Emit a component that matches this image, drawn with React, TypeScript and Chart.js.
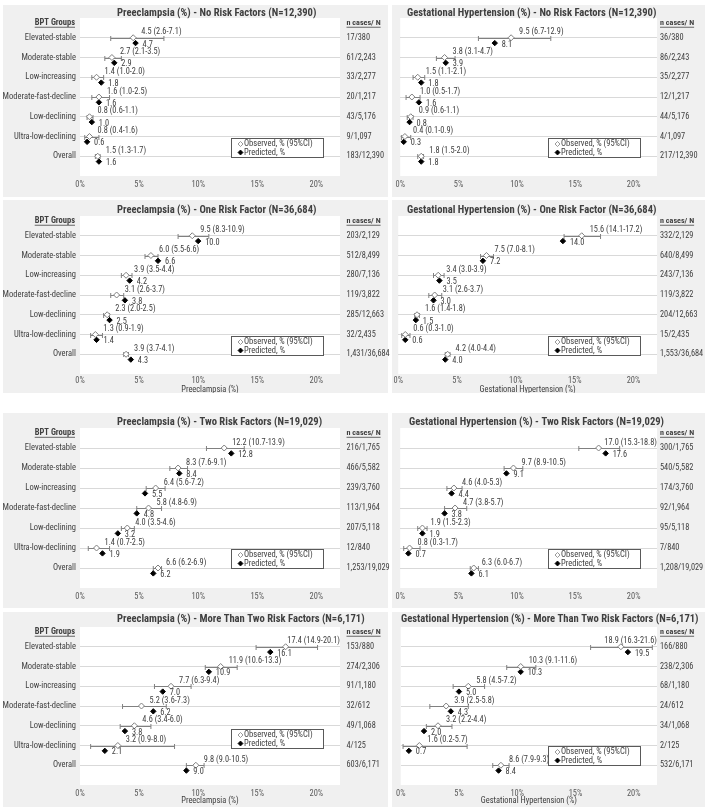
import React, { useEffect, useRef } from 'react';
import { Chart, registerables } from 'chart.js';
Chart.register(...registerables);

const FONT = '"Roboto Condensed", "DejaVu Sans Condensed", sans-serif';

const categories = ['Elevated-stable', 'Moderate-stable', 'Low-increasing', 'Moderate-fast-decline', 'Low-declining', 'Ultra-low-declining', 'Overall'];
const xTicks = [0, 5, 10, 15, 20];

// Preeclampsia - No Risk Factors
const pe0Obs = [4.5, 2.7, 1.4, 1.6, 0.8, 0.8, 1.5];
const pe0Lo = [2.6, 2.1, 1.0, 1.0, 0.6, 0.4, 1.3];
const pe0Hi = [7.1, 3.5, 2.0, 2.5, 1.1, 1.6, 1.7];
const pe0Pred = [4.7, 2.9, 1.8, 1.6, 1.0, 0.6, 1.6];
const pe0N = ['17/380', '61/2,243', '33/2,277', '20/1,217', '43/5,176', '9/1,097', '183/12,390'];
// Gestational Hypertension - No Risk Factors
const gh0Obs = [9.5, 3.8, 1.5, 1.0, 0.9, 0.4, 1.8];
const gh0Lo = [6.7, 3.1, 1.1, 0.5, 0.6, 0.1, 1.5];
const gh0Hi = [12.9, 4.7, 2.1, 1.7, 1.1, 0.9, 2.0];
const gh0Pred = [8.1, 3.9, 1.8, 1.6, 0.8, 0.3, 1.8];
const gh0N = ['36/380', '86/2,243', '35/2,277', '12/1,217', '44/5,176', '4/1,097', '217/12,390'];
// Preeclampsia - One Risk Factor
const pe1Obs = [9.5, 6.0, 3.9, 3.1, 2.3, 1.3, 3.9];
const pe1Lo = [8.3, 5.5, 3.5, 2.6, 2.0, 0.9, 3.7];
const pe1Hi = [10.9, 6.6, 4.4, 3.7, 2.5, 1.9, 4.1];
const pe1Pred = [10.0, 6.6, 4.2, 3.8, 2.5, 1.4, 4.3];
const pe1N = ['203/2,129', '512/8,499', '280/7,136', '119/3,822', '285/12,663', '32/2,435', '1,431/36,684'];
// Gestational Hypertension - One Risk Factor
const gh1Obs = [15.6, 7.5, 3.4, 3.1, 1.6, 0.6, 4.2];
const gh1Lo = [14.1, 7.0, 3.0, 2.6, 1.4, 0.3, 4.0];
const gh1Hi = [17.2, 8.1, 3.9, 3.7, 1.8, 1.0, 4.4];
const gh1Pred = [14.0, 7.2, 3.5, 3.0, 1.5, 0.6, 4.0];
const gh1N = ['332/2,129', '640/8,499', '243/7,136', '119/3,822', '204/12,663', '15/2,435', '1,553/36,684'];
// Preeclampsia - Two Risk Factors
const pe2Obs = [12.2, 8.3, 6.4, 5.8, 4.0, 1.4, 6.6];
const pe2Lo = [10.7, 7.6, 5.6, 4.8, 3.5, 0.7, 6.2];
const pe2Hi = [13.9, 9.1, 7.2, 6.9, 4.6, 2.5, 6.9];
const pe2Pred = [12.8, 8.4, 5.5, 4.8, 3.2, 1.9, 6.2];
const pe2N = ['216/1,765', '466/5,582', '239/3,760', '113/1,964', '207/5,118', '12/840', '1,253/19,029'];
// Gestational Hypertension - Two Risk Factors
const gh2Obs = [17.0, 9.7, 4.6, 4.7, 1.9, 0.8, 6.3];
const gh2Lo = [15.3, 8.9, 4.0, 3.8, 1.5, 0.3, 6.0];
const gh2Hi = [18.8, 10.5, 5.3, 5.7, 2.3, 1.7, 6.7];
const gh2Pred = [17.6, 9.1, 4.4, 3.8, 1.9, 0.7, 6.1];
const gh2N = ['300/1,765', '540/5,582', '174/3,760', '92/1,964', '95/5,118', '7/840', '1,208/19,029'];
// Preeclampsia - More Than Two Risk Factors
const pe3Obs = [17.4, 11.9, 7.7, 5.2, 4.6, 3.2, 9.8];
const pe3Lo = [14.9, 10.6, 6.3, 3.6, 3.4, 0.9, 9.0];
const pe3Hi = [20.1, 13.3, 9.4, 7.3, 6.0, 8.0, 10.5];
const pe3Pred = [16.1, 10.9, 7.0, 6.2, 3.8, 2.1, 9.0];
const pe3N = ['153/880', '274/2,306', '91/1,180', '32/612', '49/1,068', '4/125', '603/6,171'];
// Gestational Hypertension - More Than Two Risk Factors
const gh3Obs = [18.9, 10.3, 5.8, 3.9, 3.2, 1.6, 8.6];
const gh3Lo = [16.3, 9.1, 4.5, 2.5, 2.2, 0.2, 7.9];
const gh3Hi = [21.6, 11.6, 7.2, 5.8, 4.4, 5.7, 9.3];
const gh3Pred = [19.5, 10.3, 5.0, 4.3, 2.0, 0.7, 8.4];
const gh3N = ['166/880', '238/2,306', '68/1,180', '24/612', '34/1,068', '2/125', '532/6,171'];

type PanelProps = {
  bgLeft: number; bgWidth: number; left: number; top: number; width: number; height: number;
  plotTop: number; bottomH: number; leftW: number; rightW: number; isLeft: boolean;
  title: string; titleX: number; titleY: number; xTitle?: string; tickPad: number; rightPad: number;
  obs: number[]; lo: number[]; hi: number[]; pred: number[]; nCases: string[]; legendRow: number;
};

const TXT = '#404040';
const SZ_TITLE = 10.6;
const SZ_LABEL = 8.5;
const SZ_N = 8.3;
const SZ_DATA = 8.3;
const SZ_TICK = 8.4;

function Panel(p: PanelProps) {
  const ref = useRef<HTMLCanvasElement>(null);
  useEffect(() => {
    const canvas = ref.current!;
    const f = (size: number, bold = false) => `${bold ? 'bold ' : ''}${size}px ${FONT}`;
    const panelPlugin = {
      id: 'panelDeco',
      beforeDraw(chart: any) {
        const { ctx, chartArea: a } = chart;
        ctx.save();
        ctx.fillStyle = '#ffffff';
        ctx.fillRect(a.left, a.top, a.right - a.left, a.bottom - a.top);
        ctx.restore();
      },
      beforeDatasetsDraw(chart: any) {
        const { ctx, scales } = chart;
        const xs = scales.x, ys = scales.y;
        ctx.save();
        ctx.strokeStyle = '#808080';
        ctx.lineWidth = 1;
        p.lo.forEach((l, i) => {
          const y = Math.round(ys.getPixelForValue(i + 1)) + 0.5;
          const x1 = xs.getPixelForValue(l), x2 = xs.getPixelForValue(p.hi[i]);
          ctx.beginPath();
          ctx.moveTo(x1, y); ctx.lineTo(x2, y);
          ctx.moveTo(x1, y - 2.5); ctx.lineTo(x1, y + 2.5);
          ctx.moveTo(x2, y - 2.5); ctx.lineTo(x2, y + 2.5);
          ctx.stroke();
        });
        ctx.restore();
      },
      afterDraw(chart: any) {
        const { ctx, scales, chartArea: a } = chart;
        const xs = scales.x, ys = scales.y;
        ctx.save();
        // title
        ctx.fillStyle = TXT;
        ctx.font = f(SZ_TITLE, true);
        ctx.textAlign = 'left';
        ctx.textBaseline = 'middle';
        ctx.fillText(p.title, p.titleX, p.titleY);
        // headers
        const hy = ys.getPixelForValue(0.24);
        const underline = (x: number, y: number, w: number) => {
          ctx.strokeStyle = TXT; ctx.lineWidth = 0.8;
          ctx.beginPath(); ctx.moveTo(x, y + 4.5); ctx.lineTo(x + w, y + 4.5); ctx.stroke();
        };
        if (p.isLeft) {
          ctx.font = f(SZ_LABEL, true);
          ctx.textAlign = 'right';
          const t = 'BPT Groups';
          const w = ctx.measureText(t).width;
          ctx.fillText(t, a.left - 5, hy);
          underline(a.left - 5 - w, hy, w);
        }
        ctx.font = f(SZ_N - 0.2, true);
        ctx.textAlign = 'left';
        const nt = 'n cases/ N';
        const nw = ctx.measureText(nt).width;
        ctx.fillText(nt, a.right + p.rightPad, hy);
        underline(a.right + p.rightPad, hy, nw);
        // data labels
        ctx.font = f(SZ_DATA);
        ctx.fillStyle = TXT;
        ctx.textAlign = 'left';
        p.obs.forEach((v, i) => {
          const t = `${v.toFixed(1)} (${p.lo[i].toFixed(1)}-${p.hi[i].toFixed(1)})`;
          const w = ctx.measureText(t).width;
          let x = xs.getPixelForValue(v) + 8;
          if (x + w > a.right) x = a.right - w;
          ctx.fillText(t, x, ys.getPixelForValue(i + 1) - 5.5);
        });
        p.pred.forEach((v, i) => {
          ctx.fillText(v.toFixed(1), xs.getPixelForValue(v) + 7, ys.getPixelForValue(i + 1.27) + 1.5);
        });
        // x axis title
        if (p.xTitle) {
          ctx.font = f(SZ_TICK);
          ctx.fillStyle = TXT;
          ctx.textAlign = 'center';
          ctx.fillText(p.xTitle, (a.left + a.right) / 2, a.bottom + 16);
        }
        // legend
        const bw = 92, bh = 19;
        const bx = Math.round(a.right - 17 - bw) + 0.5;
        const by = Math.round(ys.getPixelForValue(p.legendRow) - bh / 2) + 0.5;
        ctx.fillStyle = '#ffffff';
        ctx.fillRect(bx, by, bw, bh);
        ctx.strokeStyle = '#595959';
        ctx.lineWidth = 1;
        ctx.strokeRect(bx, by, bw, bh);
        const diamond = (cx: number, cy: number, r: number, fill: string, stroke: string) => {
          ctx.beginPath();
          ctx.moveTo(cx, cy - r); ctx.lineTo(cx + r, cy); ctx.lineTo(cx, cy + r); ctx.lineTo(cx - r, cy); ctx.closePath();
          ctx.fillStyle = fill; ctx.fill();
          ctx.strokeStyle = stroke; ctx.lineWidth = 0.8; ctx.stroke();
        };
        diamond(bx + 9, by + 5.5, 2.5, '#ffffff', '#808080');
        diamond(bx + 9, by + 14, 2.5, '#000000', '#000000');
        ctx.font = f(SZ_LABEL);
        ctx.fillStyle = TXT;
        ctx.textAlign = 'left';
        ctx.fillText('Observed, % (95%CI)', bx + 12.5, by + 5.5);
        ctx.fillText('Predicted, %', bx + 12.5, by + 14);
        ctx.restore();
      },
    };

    const chart = new Chart(canvas, {
      type: 'scatter',
      data: {
        datasets: [
          {
            label: 'Observed, % (95%CI)',
            data: p.obs.map((v, i) => ({ x: v, y: i + 1 })),
            pointStyle: 'rectRot', pointRadius: 3,
            backgroundColor: '#ffffff', borderColor: '#808080', borderWidth: 1,
          },
          {
            label: 'Predicted, %',
            data: p.pred.map((v, i) => ({ x: v, y: i + 1.27 })),
            pointStyle: 'rectRot', pointRadius: 2.7,
            backgroundColor: '#000000', borderColor: '#000000', borderWidth: 1,
          },
        ],
      },
      options: {
        animation: false,
        responsive: false,
        maintainAspectRatio: false,
        events: [],
        layout: { padding: { top: p.plotTop, left: 0, right: 0, bottom: 0 } },
        plugins: { legend: { display: false }, title: { display: false }, tooltip: { enabled: false } },
        scales: {
          x: {
            type: 'linear', min: 0, max: 22,
            afterBuildTicks: (s: any) => { s.ticks = xTicks.map((v) => ({ value: v })); },
            afterFit: (s: any) => { s.height = p.bottomH; },
            grid: { display: false, drawTicks: false },
            border: { display: false },
            ticks: { callback: (v: any) => `${v}%`, font: { family: FONT, size: SZ_TICK }, color: '#595959', padding: p.tickPad, maxRotation: 0 },
          },
          y: {
            type: 'linear', min: 0, max: 8, reverse: true, position: 'left',
            afterBuildTicks: (s: any) => { s.ticks = categories.map((_, i) => ({ value: i + 1 })); },
            afterFit: (s: any) => { s.width = p.leftW; },
            grid: { color: '#d9d9d9', drawTicks: false, lineWidth: 1 },
            border: { display: false },
            ticks: { display: p.isLeft, callback: (v: any) => categories[v - 1], font: { family: FONT, size: SZ_LABEL }, color: TXT, padding: 4 },
          },
          y2: {
            type: 'linear', min: 0, max: 8, reverse: true, position: 'right',
            afterBuildTicks: (s: any) => { s.ticks = p.nCases.map((_, i) => ({ value: i + 1 })); },
            afterFit: (s: any) => { s.width = p.rightW; },
            grid: { display: false, drawTicks: false },
            border: { display: false },
            ticks: { callback: (v: any) => p.nCases[v - 1], font: { family: FONT, size: SZ_N }, color: TXT, padding: p.rightPad },
          },
        },
      } as any,
      plugins: [panelPlugin],
    });
    return () => chart.destroy();
  }, []);
  return (
    <>
      <div style={{ position: 'absolute', left: p.bgLeft, top: p.top, width: p.bgWidth, height: p.height, background: '#f0f0f0' }} />
      <canvas ref={ref} width={p.width} height={p.height} style={{ position: 'absolute', left: p.left, top: p.top, display: 'block', width: p.width, height: p.height }} />
    </>
  );
}

const rowsY = [
  { top: 5, height: 192, plotTop: 13, bottomH: 21, titleY: 8, tickPad: 3.5 },
  { top: 200, height: 193, plotTop: 16, bottomH: 19, titleY: 10, tickPad: 1.5 },
  { top: 413, height: 195, plotTop: 15, bottomH: 20, titleY: 9, tickPad: 3.5 },
  { top: 612, height: 195, plotTop: 15, bottomH: 22, titleY: 7, tickPad: 4 },
];

export default function App() {
  // left panels: gray 3..388, canvas 0..395, plot 80..340
  const L = { bgLeft: 3, bgWidth: 385, left: 0, width: 395, leftW: 80, rightW: 55, isLeft: true, titleX: 117, rightPad: 6.5 };
  // right panels: gray 392..705, canvas 392..709, plot 397..657
  const R = { bgLeft: 392, bgWidth: 313, left: 392, width: 317, leftW: 5, rightW: 52, isLeft: false, rightPad: 3 };
  return (
    <div style={{ position: 'fixed', left: 0, top: 0, width: 709, height: 809, background: '#ffffff' }}>
      <Panel {...L} {...rowsY[0]} title="Preeclampsia (%) - No Risk Factors (N=12,390)" obs={pe0Obs} lo={pe0Lo} hi={pe0Hi} pred={pe0Pred} nCases={pe0N} legendRow={6.55} />
      <Panel {...R} {...rowsY[0]} titleX={15} title="Gestational Hypertension (%) - No Risk Factors (N=12,390)" obs={gh0Obs} lo={gh0Lo} hi={gh0Hi} pred={gh0Pred} nCases={gh0N} legendRow={6.55} />
      <Panel {...L} {...rowsY[1]} title="Preeclampsia (%) - One Risk Factor (N=36,684)" xTitle="Preeclampsia (%)" obs={pe1Obs} lo={pe1Lo} hi={pe1Hi} pred={pe1Pred} nCases={pe1N} legendRow={6.55} />
      <Panel {...R} {...rowsY[1]} titleX={15} title="Gestational Hypertension (%) - One Risk Factor (N=36,684)" xTitle="Gestational Hypertension (%)" obs={gh1Obs} lo={gh1Lo} hi={gh1Hi} pred={gh1Pred} nCases={gh1N} legendRow={6.55} />
      <Panel {...L} {...rowsY[2]} title="Preeclampsia (%) - Two Risk Factors (N=19,029)" obs={pe2Obs} lo={pe2Lo} hi={pe2Hi} pred={pe2Pred} nCases={pe2N} legendRow={6.5} />
      <Panel {...R} {...rowsY[2]} titleX={17} title="Gestational Hypertension (%) - Two Risk Factors (N=19,029)" obs={gh2Obs} lo={gh2Lo} hi={gh2Hi} pred={gh2Pred} nCases={gh2N} legendRow={6.5} />
      <Panel {...L} {...rowsY[3]} title="Preeclampsia (%) - More Than Two Risk Factors (N=6,171)" xTitle="Preeclampsia (%)" obs={pe3Obs} lo={pe3Lo} hi={pe3Hi} pred={pe3Pred} nCases={pe3N} legendRow={5.65} />
      <Panel {...R} {...rowsY[3]} titleX={9} title="Gestational Hypertension (%) - More Than Two Risk Factors (N=6,171)" xTitle="Gestational Hypertension (%)" obs={gh3Obs} lo={gh3Lo} hi={gh3Hi} pred={gh3Pred} nCases={gh3N} legendRow={6.5} />
    </div>
  );
}
